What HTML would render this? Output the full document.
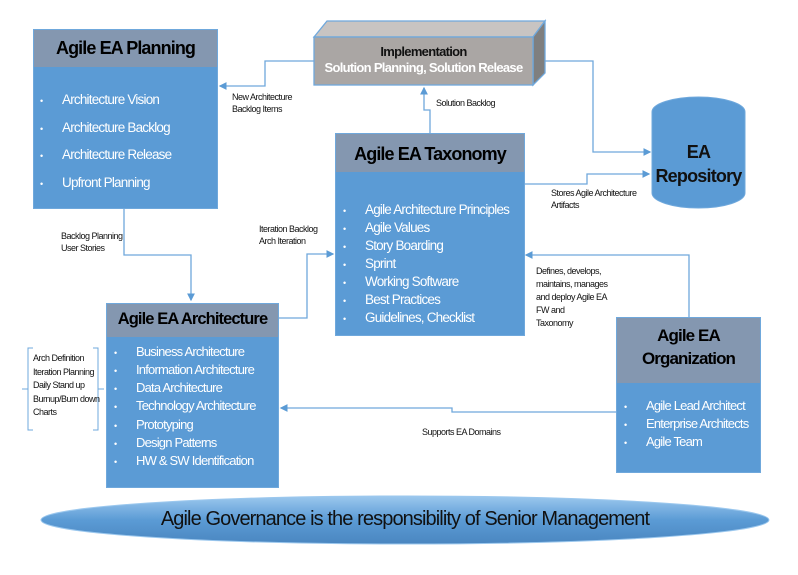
<!DOCTYPE html>
<html><head><meta charset="utf-8"><style>
body{margin:0;width:798px;height:575px;background:#fff;position:relative;overflow:hidden;font-family:"Liberation Sans",Arial,sans-serif}
.b{position:absolute;background:#5b9bd5;border:1px solid #6fa8dc;box-sizing:border-box}
.h{position:absolute;left:0;right:0;top:0;background:#8497b0;color:#000;font-weight:bold;text-align:center;letter-spacing:-0.9px}
.li{position:absolute;color:#fff;white-space:nowrap;letter-spacing:-0.8px}
.li span{position:absolute;left:-22px;font-size:9px;top:4px}
.t{position:absolute;font-size:9px;color:#111;line-height:12px;letter-spacing:-0.5px;white-space:nowrap}
</style></head><body>
<svg width="798" height="575" style="position:absolute;left:0;top:0">
<defs><marker id="a" markerWidth="6" markerHeight="6" refX="5" refY="3" orient="auto"><path d="M0,0 L6,3 L0,6z" fill="#5b9bd5"/></marker>
<linearGradient id="g" x1="0" y1="0" x2="0" y2="1"><stop offset="0" stop-color="#9cc8ee"/><stop offset="0.5" stop-color="#5b9bd5"/><stop offset="1" stop-color="#4a86c0"/></linearGradient></defs>
<g fill="none" stroke="#6fa8dc" stroke-width="1.3">
<polyline points="314,61 265,61 265,86 220,86" marker-end="url(#a)"/>
<polyline points="430,133 430,110 424,110 424,88" marker-end="url(#a)"/>
<polyline points="545,61 593,61 593,152 650,152" marker-end="url(#a)"/>
<polyline points="524,184 587,184 587,174 649,174" marker-end="url(#a)"/>
<polyline points="689,317 689,255 526,255" marker-end="url(#a)"/>
<polyline points="616,412 452,412 452,408 281,408" marker-end="url(#a)"/>
<polyline points="124,208 124,255 191,255 191,300" marker-end="url(#a)"/>
<polyline points="278,318 307,318 307,254 333,254" marker-end="url(#a)"/>
<path d="M33,348 h-5 v82 h5 M28,389 h-6 M93,348 h5 v82 h-5 M98,389 h6" stroke-width="1"/>
</g>
<polygon points="314,37 327,21 545,21 533,37" fill="#c8c4c2" stroke="#6fa8dc" stroke-width="1.3"/>
<polygon points="533,37 545,21 545,73 533,85" fill="#7f7f7f" stroke="#6fa8dc" stroke-width="1.3"/>
<rect x="314" y="37" width="219" height="48" fill="#aaa6a4" stroke="#6fa8dc" stroke-width="1.3"/>
<path d="M652,112 a46.5,15 0 0 1 93,0 v81 a46.5,15 0 0 1 -93,0z" fill="#5b9bd5" stroke="#6fa8dc"/>
<ellipse cx="405" cy="520" rx="364" ry="24" fill="url(#g)" stroke="#9cc8ee"/>
</svg>
<div class="t" style="left:314px;top:44px;width:219px;text-align:center;font-size:13px;font-weight:bold;line-height:16px;letter-spacing:-0.7px">Implementation<br><span style="color:#fff">Solution Planning, Solution Release</span></div>
<div class="t" style="left:652px;top:140px;width:93px;text-align:center;font-size:18px;font-weight:bold;line-height:24px;letter-spacing:-0.8px">EA<br>Repository</div>

<div class="b" style="left:33px;top:29px;width:185px;height:180px"><div class="h" style="height:37px;font-size:18px;line-height:37px">Agile EA Planning</div>
<div class="li" style="left:28px;top:62px;font-size:13.5px"><span>•</span>Architecture Vision</div>
<div class="li" style="left:28px;top:90px;font-size:13.5px"><span>•</span>Architecture Backlog</div>
<div class="li" style="left:28px;top:117px;font-size:13.5px"><span>•</span>Architecture Release</div>
<div class="li" style="left:28px;top:145px;font-size:13.5px"><span>•</span>Upfront Planning</div></div>

<div class="b" style="left:335px;top:133px;width:190px;height:203px"><div class="h" style="height:38px;font-size:18px;line-height:40px">Agile EA Taxonomy</div>
<div class="li" style="left:29px;top:68px;font-size:13.5px"><span>•</span>Agile Architecture Principles</div>
<div class="li" style="left:29px;top:86px;font-size:13.5px"><span>•</span>Agile Values</div>
<div class="li" style="left:29px;top:104px;font-size:13.5px"><span>•</span>Story Boarding</div>
<div class="li" style="left:29px;top:122px;font-size:13.5px"><span>•</span>Sprint</div>
<div class="li" style="left:29px;top:140px;font-size:13.5px"><span>•</span>Working Software</div>
<div class="li" style="left:29px;top:158px;font-size:13.5px"><span>•</span>Best Practices</div>
<div class="li" style="left:29px;top:176px;font-size:13.5px"><span>•</span>Guidelines, Checklist</div></div>

<div class="b" style="left:106px;top:303px;width:173px;height:185px"><div class="h" style="height:33px;font-size:16.5px;line-height:30px">Agile EA Architecture</div>
<div class="li" style="left:29px;top:40px;font-size:13px"><span>•</span>Business Architecture</div>
<div class="li" style="left:29px;top:58px;font-size:13px"><span>•</span>Information Architecture</div>
<div class="li" style="left:29px;top:76px;font-size:13px"><span>•</span>Data Architecture</div>
<div class="li" style="left:29px;top:94px;font-size:13px"><span>•</span>Technology Architecture</div>
<div class="li" style="left:29px;top:113px;font-size:13px"><span>•</span>Prototyping</div>
<div class="li" style="left:29px;top:131px;font-size:13px"><span>•</span>Design Patterns</div>
<div class="li" style="left:29px;top:149px;font-size:13px"><span>•</span>HW &amp; SW Identification</div></div>

<div class="b" style="left:616px;top:317px;width:145px;height:156px"><div class="h" style="height:59px;font-size:17px;line-height:23px;padding-top:6px">Agile EA<br>Organization</div>
<div class="li" style="left:29px;top:80px;font-size:13px"><span>•</span>Agile Lead Architect</div>
<div class="li" style="left:29px;top:98px;font-size:13px"><span>•</span>Enterprise Architects</div>
<div class="li" style="left:29px;top:116px;font-size:13px"><span>•</span>Agile Team</div></div>

<div style="position:absolute;left:42px;top:508px;width:726px;text-align:center;font-size:20px;letter-spacing:-0.9px;color:#111">Agile Governance is the responsibility of Senior Management</div>

<div class="t" style="left:232px;top:91px">New Architecture<br>Backlog Items</div>
<div class="t" style="left:436px;top:97px">Solution Backlog</div>
<div class="t" style="left:551px;top:187px">Stores Agile Architecture<br>Artifacts</div>
<div class="t" style="left:536px;top:265px;line-height:13px">Defines, develops,<br>maintains, manages<br>and deploy Agile EA<br>FW and<br>Taxonomy</div>
<div class="t" style="left:61px;top:230px">Backlog Planning<br>User Stories</div>
<div class="t" style="left:259px;top:223px">Iteration Backlog<br>Arch Iteration</div>
<div class="t" style="left:422px;top:426px">Supports EA Domains</div>
<div class="t" style="left:33px;top:352px;line-height:13.5px">Arch Definition<br>Iteration Planning<br>Daily Stand up<br>Burnup/Burn down<br>Charts</div>
</body></html>
